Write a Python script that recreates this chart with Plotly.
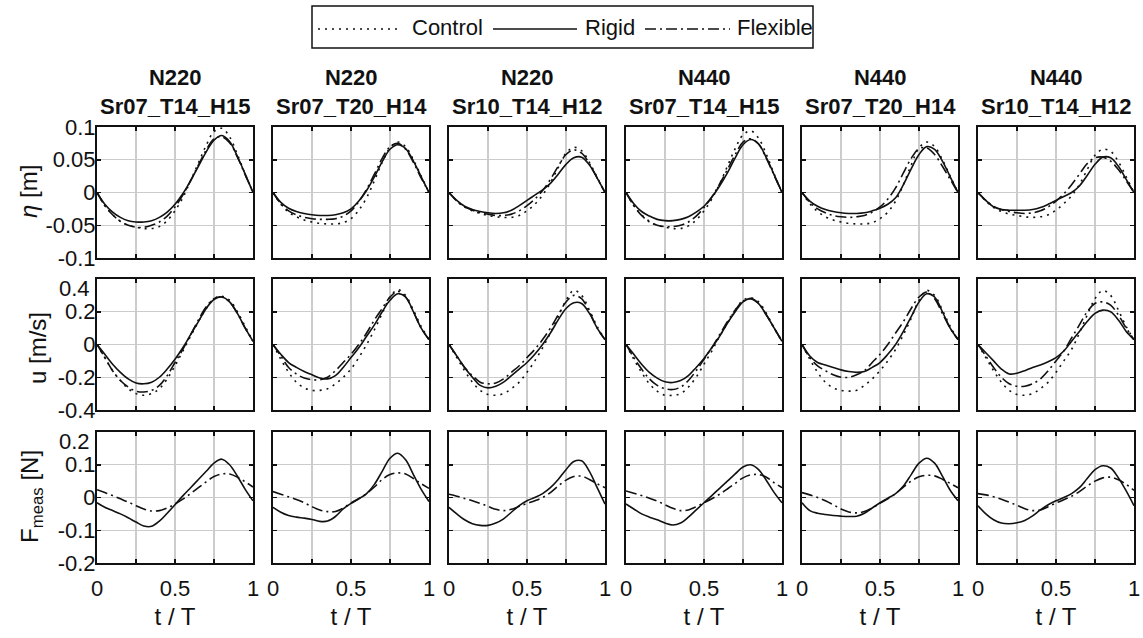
import plotly.graph_objects as go

# figure fills the whole 1143x638 page (the default body margin is removed below)
W, H = 1143, 638

t = [0.0, 0.05, 0.1, 0.15, 0.2, 0.25, 0.3, 0.35, 0.4, 0.45, 0.5,
     0.55, 0.6, 0.65, 0.7, 0.75, 0.8, 0.85, 0.9, 0.95, 1.0]

case_group = ["N220", "N220", "N220", "N440", "N440", "N440"]
case_name = ["Sr07_T14_H15", "Sr07_T20_H14", "Sr10_T14_H12",
             "Sr07_T14_H15", "Sr07_T20_H14", "Sr10_T14_H12"]

series_names = ["Control", "Rigid", "Flexible"]
x_title = "t / T"
y_titles = ["<i>η</i> [m]", "u [m/s]", "F<sub>meas</sub> [N]"]

x_tickvals = [0, 0.5, 1]
x_ticktext = ["0", "0.5", "1"]
x_minor_ticks = [0.25, 0.75]
eta_ticks = [-0.1, -0.05, 0, 0.05, 0.1]
eta_ticktext = ["-0.1", "-0.05", "0", "0.05", "0.1"]
u_ticks = [-0.4, -0.2, 0, 0.2, 0.4]
u_ticktext = ["-0.4", "-0.2", "0", "0.2", "0.4"]
f_ticks = [-0.2, -0.1, 0, 0.1, 0.2]
f_ticktext = ["-0.2", "-0.1", "0", "0.1", "0.2"]

# ---- surface elevation eta [m] ----
eta_control = [
    [0, -0.02, -0.034, -0.044, -0.05, -0.053, -0.055, -0.055, -0.052, -0.043, -0.028, -0.008, 0.018, 0.045, 0.072, 0.093, 0.098, 0.085, 0.058, 0.028, 0],
    [0, -0.018, -0.03, -0.037, -0.042, -0.045, -0.047, -0.048, -0.048, -0.046, -0.04, -0.027, -0.008, 0.018, 0.046, 0.068, 0.077, 0.07, 0.05, 0.025, 0],
    [0, -0.013, -0.022, -0.028, -0.032, -0.035, -0.037, -0.038, -0.038, -0.035, -0.028, -0.018, -0.004, 0.015, 0.038, 0.06, 0.069, 0.064, 0.046, 0.023, 0],
    [0, -0.02, -0.034, -0.044, -0.05, -0.053, -0.055, -0.055, -0.051, -0.042, -0.028, -0.01, 0.013, 0.04, 0.067, 0.088, 0.094, 0.083, 0.058, 0.028, 0],
    [0, -0.017, -0.029, -0.037, -0.042, -0.045, -0.047, -0.048, -0.048, -0.046, -0.04, -0.03, -0.013, 0.012, 0.042, 0.068, 0.077, 0.07, 0.05, 0.025, 0],
    [0, -0.013, -0.023, -0.029, -0.033, -0.035, -0.037, -0.038, -0.037, -0.034, -0.027, -0.017, -0.005, 0.012, 0.035, 0.057, 0.066, 0.063, 0.047, 0.024, 0],
]
eta_rigid = [
    [0, -0.018, -0.03, -0.038, -0.043, -0.045, -0.045, -0.043, -0.038, -0.03, -0.018, -0.002, 0.018, 0.04, 0.062, 0.08, 0.087, 0.078, 0.055, 0.028, 0],
    [0, -0.015, -0.024, -0.029, -0.032, -0.034, -0.035, -0.035, -0.034, -0.031, -0.025, -0.013, 0.003, 0.024, 0.047, 0.066, 0.073, 0.067, 0.048, 0.024, 0],
    [0, -0.012, -0.021, -0.026, -0.029, -0.031, -0.032, -0.031, -0.027, -0.02, -0.012, -0.004, 0.004, 0.014, 0.028, 0.043, 0.053, 0.054, 0.042, 0.022, 0],
    [0, -0.017, -0.029, -0.036, -0.041, -0.043, -0.043, -0.041, -0.037, -0.03, -0.021, -0.007, 0.01, 0.03, 0.053, 0.073, 0.081, 0.074, 0.053, 0.027, 0],
    [0, -0.013, -0.021, -0.026, -0.029, -0.031, -0.032, -0.032, -0.031, -0.028, -0.024, -0.018, -0.008, 0.012, 0.036, 0.058, 0.07, 0.066, 0.048, 0.024, 0],
    [0, -0.012, -0.022, -0.026, -0.027, -0.027, -0.027, -0.026, -0.023, -0.018, -0.012, -0.006, 0.0, 0.01, 0.026, 0.043, 0.054, 0.053, 0.04, 0.02, 0],
]
eta_flexible = [
    [0, -0.02, -0.034, -0.044, -0.05, -0.053, -0.053, -0.05, -0.045, -0.036, -0.022, -0.004, 0.018, 0.042, 0.065, 0.082, 0.085, 0.076, 0.054, 0.027, 0],
    [0, -0.017, -0.028, -0.034, -0.038, -0.04, -0.041, -0.041, -0.04, -0.036, -0.028, -0.014, 0.005, 0.028, 0.052, 0.07, 0.075, 0.066, 0.046, 0.022, 0],
    [0, -0.013, -0.022, -0.027, -0.031, -0.033, -0.035, -0.035, -0.033, -0.028, -0.02, -0.01, 0.003, 0.02, 0.04, 0.058, 0.065, 0.06, 0.044, 0.022, 0],
    [0, -0.02, -0.035, -0.045, -0.05, -0.052, -0.052, -0.05, -0.045, -0.036, -0.023, -0.007, 0.013, 0.035, 0.058, 0.077, 0.082, 0.074, 0.052, 0.026, 0],
    [0, -0.015, -0.025, -0.031, -0.035, -0.037, -0.038, -0.037, -0.035, -0.03, -0.022, -0.01, 0.007, 0.03, 0.052, 0.067, 0.068, 0.058, 0.04, 0.02, 0],
    [0, -0.012, -0.021, -0.026, -0.029, -0.031, -0.032, -0.031, -0.028, -0.022, -0.013, -0.002, 0.012, 0.028, 0.044, 0.053, 0.054, 0.048, 0.035, 0.018, 0],
]

# ---- velocity u [m/s] ----
u_control = [
    [0, -0.08, -0.16, -0.22, -0.27, -0.3, -0.31, -0.3, -0.27, -0.21, -0.13, -0.04, 0.05, 0.14, 0.22, 0.28, 0.295, 0.27, 0.2, 0.11, 0.02],
    [0, -0.09, -0.17, -0.23, -0.265, -0.28, -0.28, -0.27, -0.24, -0.2, -0.15, -0.08, 0.0, 0.09, 0.19, 0.29, 0.335, 0.3, 0.21, 0.11, 0.03],
    [0, -0.08, -0.16, -0.23, -0.28, -0.305, -0.31, -0.3, -0.27, -0.23, -0.17, -0.1, -0.02, 0.07, 0.17, 0.27, 0.33, 0.3, 0.21, 0.11, 0.03],
    [0, -0.09, -0.17, -0.24, -0.285, -0.31, -0.31, -0.3, -0.26, -0.2, -0.12, -0.04, 0.05, 0.13, 0.21, 0.27, 0.285, 0.26, 0.19, 0.1, 0.02],
    [0, -0.09, -0.17, -0.23, -0.265, -0.28, -0.285, -0.28, -0.25, -0.21, -0.16, -0.1, -0.03, 0.06, 0.16, 0.27, 0.33, 0.3, 0.21, 0.11, 0.03],
    [0, -0.08, -0.16, -0.23, -0.28, -0.305, -0.31, -0.3, -0.27, -0.23, -0.17, -0.1, -0.03, 0.07, 0.18, 0.28, 0.33, 0.3, 0.21, 0.11, 0.03],
]
u_rigid = [
    [0, -0.06, -0.12, -0.17, -0.21, -0.235, -0.24, -0.23, -0.2, -0.15, -0.09, -0.02, 0.06, 0.14, 0.22, 0.275, 0.29, 0.26, 0.19, 0.1, 0.02],
    [0, -0.06, -0.11, -0.14, -0.165, -0.185, -0.205, -0.21, -0.19, -0.14, -0.08, -0.02, 0.05, 0.12, 0.2, 0.27, 0.31, 0.29, 0.2, 0.1, 0.03],
    [0, -0.07, -0.14, -0.2, -0.25, -0.265, -0.255, -0.23, -0.19, -0.15, -0.11, -0.06, 0.0, 0.07, 0.15, 0.22, 0.255, 0.25, 0.19, 0.1, 0.03],
    [0, -0.06, -0.12, -0.17, -0.205, -0.228, -0.232, -0.22, -0.19, -0.14, -0.085, -0.02, 0.05, 0.13, 0.2, 0.26, 0.28, 0.25, 0.18, 0.1, 0.02],
    [0, -0.07, -0.11, -0.125, -0.14, -0.155, -0.165, -0.17, -0.165, -0.14, -0.11, -0.06, 0.0, 0.08, 0.17, 0.26, 0.31, 0.29, 0.2, 0.1, 0.03],
    [0, -0.05, -0.1, -0.15, -0.18, -0.175, -0.16, -0.14, -0.125, -0.105, -0.08, -0.04, 0.02, 0.08, 0.14, 0.19, 0.21, 0.2, 0.15, 0.08, 0.03],
]
u_flexible = [
    [0, -0.08, -0.16, -0.22, -0.26, -0.285, -0.29, -0.28, -0.25, -0.19, -0.11, -0.03, 0.06, 0.15, 0.23, 0.28, 0.29, 0.26, 0.19, 0.1, 0.02],
    [0, -0.07, -0.14, -0.18, -0.205, -0.215, -0.215, -0.2, -0.16, -0.11, -0.06, 0.0, 0.07, 0.15, 0.22, 0.29, 0.325, 0.29, 0.2, 0.1, 0.03],
    [0, -0.07, -0.14, -0.19, -0.23, -0.24, -0.235, -0.21, -0.17, -0.13, -0.08, -0.03, 0.03, 0.1, 0.18, 0.26, 0.3, 0.28, 0.2, 0.1, 0.03],
    [0, -0.08, -0.15, -0.21, -0.25, -0.27, -0.275, -0.26, -0.22, -0.16, -0.09, -0.02, 0.06, 0.14, 0.21, 0.265, 0.28, 0.25, 0.18, 0.1, 0.02],
    [0, -0.08, -0.13, -0.16, -0.185, -0.2, -0.2, -0.185, -0.16, -0.11, -0.06, 0.0, 0.07, 0.14, 0.22, 0.29, 0.32, 0.28, 0.19, 0.1, 0.03],
    [0, -0.07, -0.14, -0.2, -0.24, -0.255, -0.255, -0.24, -0.21, -0.16, -0.1, -0.04, 0.04, 0.12, 0.2, 0.25, 0.26, 0.24, 0.18, 0.1, 0.03],
]

# ---- measured force F_meas [N] ----
f_rigid = [
    [-0.016, -0.03, -0.04, -0.05, -0.062, -0.075, -0.087, -0.088, -0.072, -0.048, -0.022, 0.005, 0.03, 0.055, 0.08, 0.105, 0.117, 0.1, 0.065, 0.025, -0.01],
    [-0.03, -0.045, -0.055, -0.06, -0.063, -0.067, -0.073, -0.072, -0.058, -0.035, -0.018, -0.004, 0.012, 0.04, 0.08, 0.12, 0.135, 0.115, 0.07, 0.025, -0.012],
    [-0.03, -0.05, -0.068, -0.08, -0.085, -0.085, -0.078, -0.065, -0.045, -0.025, -0.01, 0.0, 0.012, 0.03, 0.055, 0.085, 0.11, 0.112, 0.08, 0.03, -0.02],
    [-0.02, -0.035, -0.05, -0.06, -0.068, -0.078, -0.084, -0.078, -0.06, -0.038, -0.016, 0.006, 0.028, 0.05, 0.072, 0.093, 0.1, 0.085, 0.052, 0.015, -0.016],
    [-0.016, -0.04, -0.048, -0.052, -0.055, -0.057, -0.058, -0.057, -0.048, -0.032, -0.016, -0.002, 0.012, 0.035, 0.07, 0.105, 0.12, 0.105, 0.065, 0.022, -0.01],
    [-0.025, -0.05, -0.068, -0.078, -0.08, -0.077, -0.07, -0.056, -0.038, -0.022, -0.01, 0.0, 0.012, 0.03, 0.058, 0.085, 0.097, 0.09, 0.06, 0.02, -0.025],
]
f_flexible = [
    [0.024, 0.015, 0.006, -0.004, -0.014, -0.025, -0.035, -0.041, -0.04, -0.032, -0.02, -0.005, 0.012, 0.03, 0.048, 0.064, 0.072, 0.072, 0.062, 0.048, 0.032],
    [0.018, 0.01, 0.002, -0.006, -0.016, -0.028, -0.038, -0.043, -0.043, -0.032, -0.017, -0.003, 0.012, 0.032, 0.055, 0.07, 0.075, 0.072, 0.058, 0.042, 0.028],
    [0.01, 0.004, -0.003, -0.01, -0.018, -0.027, -0.036, -0.04, -0.036, -0.027, -0.018, -0.01, 0.0, 0.015, 0.035, 0.053, 0.064, 0.065, 0.055, 0.042, 0.03],
    [0.02, 0.013, 0.006, -0.002, -0.011, -0.022, -0.033, -0.04, -0.038, -0.028, -0.016, -0.004, 0.01, 0.026, 0.043, 0.06, 0.069, 0.07, 0.062, 0.045, 0.03],
    [0.015, 0.008, 0.0, -0.01, -0.022, -0.035, -0.044, -0.047, -0.043, -0.032, -0.018, -0.004, 0.012, 0.032, 0.05, 0.063, 0.068, 0.066, 0.056, 0.043, 0.03],
    [0.012, 0.008, 0.002, -0.005, -0.014, -0.024, -0.034, -0.04, -0.038, -0.028, -0.017, -0.007, 0.004, 0.018, 0.035, 0.05, 0.06, 0.062, 0.054, 0.04, 0.022],
]

# ---------------- styling / layout ----------------
FONT = "Liberation Sans, Arial, sans-serif"
INK = "#111111"
GRID = "#cccccc"
DASH = {"Control": "2px,5px", "Rigid": "solid", "Flexible": "11px,4px,2px,4px"}
LW = 1.6

# positions in page pixels
col_left = [97, 273, 449, 626, 802, 978]
col_w = 156
row_top = [127, 279, 432]
row_h = 131
ytitle_x = [28, 37, 31]
ytitle_y = [192, 348, 497]

def px(x):
    return x / W

def py(y):
    return 1 - y / H

rows = [
    {"ticks": eta_ticks, "text": eta_ticktext, "range": [-0.1, 0.1],
     "series": [("Control", eta_control), ("Rigid", eta_rigid), ("Flexible", eta_flexible)]},
    {"ticks": u_ticks, "text": u_ticktext, "range": [-0.4, 0.4],
     "series": [("Control", u_control), ("Rigid", u_rigid), ("Flexible", u_flexible)]},
    {"ticks": f_ticks, "text": f_ticktext, "range": [-0.2, 0.2],
     "series": [("Rigid", f_rigid), ("Flexible", f_flexible)]},
]

fig = go.Figure()
layout = {}
annotations = []
for r, row in enumerate(rows):
    for c in range(6):
        k = r * 6 + c + 1
        xa = "xaxis" if k == 1 else f"xaxis{k}"
        ya = "yaxis" if k == 1 else f"yaxis{k}"
        xr = "x" if k == 1 else f"x{k}"
        yr = "y" if k == 1 else f"y{k}"
        for name, data in row["series"]:
            fig.add_trace(go.Scatter(
                x=t, y=data[c], mode="lines", name=name, showlegend=False,
                xaxis=xr, yaxis=yr,
                line=dict(color=INK, width=LW, dash=DASH[name], shape="spline", smoothing=1.0),
                hoverinfo="skip"))
        common = dict(showline=True, linecolor=INK, linewidth=2, mirror="ticks",
                      ticks="inside", ticklen=4, tickwidth=1.5, tickcolor=INK,
                      showgrid=True, gridcolor=GRID, gridwidth=1.2, zeroline=False,
                      automargin=False, ticklabeloverflow="allow",
                      tickfont=dict(family=FONT, size=22, color=INK))
        layout[xa] = dict(common, domain=[px(col_left[c]), px(col_left[c] + col_w)],
                          anchor=yr, range=[0, 1], tickmode="array",
                          tickvals=x_tickvals, ticktext=x_ticktext,
                          minor=dict(tickmode="array", tickvals=x_minor_ticks,
                                     ticks="inside", ticklen=4, tickwidth=1.5,
                                     tickcolor=INK, showgrid=True,
                                     gridcolor=GRID, gridwidth=1.2),
                          showticklabels=(r == 2), ticklabelstandoff=5)
        if r == 2:
            layout[xa]["title"] = dict(text=x_title, standoff=8,
                                       font=dict(family=FONT, size=24, color=INK))
        # the top tick label of the lower rows sits a little below its tick
        # (as in the original), so it is written separately
        tv, tt = list(row["ticks"]), list(row["text"])
        if r > 0:
            top_text = tt[-1]
            tv, tt = tv[:-1], tt[:-1]
            if c == 0:
                annotations.append(dict(
                    x=px(col_left[0] - 5), y=py(row_top[r] + 9), xref="paper", yref="paper",
                    xanchor="right", yanchor="middle", showarrow=False, text=top_text,
                    font=dict(family=FONT, size=22, color=INK)))
        layout[ya] = dict(common, domain=[py(row_top[r] + row_h), py(row_top[r])],
                          anchor=xr, range=row["range"], tickmode="array",
                          tickvals=tv, ticktext=tt,
                          showticklabels=(c == 0), ticklabelstandoff=-5)

# y-axis titles (rotated, placed as in the original)
for r in range(3):
    annotations.append(dict(
        x=px(ytitle_x[r]), y=py(ytitle_y[r]), xref="paper", yref="paper",
        xanchor="center", yanchor="middle", showarrow=False, textangle=-90,
        text=y_titles[r], font=dict(family=FONT, size=24, color=INK)))

for c in range(6):
    annotations.append(dict(
        x=px(col_left[c] + col_w / 2), y=py(row_top[0] - 6), xref="paper", yref="paper",
        xanchor="center", yanchor="bottom", showarrow=False,
        text=f"<b>{case_group[c]}</b><br><b>{case_name[c]}</b>",
        font=dict(family=FONT, size=22, color=INK)))

# legend (drawn as a boxed key)
shapes = [dict(type="rect", xref="paper", yref="paper",
               x0=px(312), x1=px(813), y0=py(48), y1=py(6),
               line=dict(color=INK, width=1.5), fillcolor="white")]
leg_lines = [(318, 397), (493, 577), (645, 730)]
leg_text_x = [410, 583, 735]
for (x0, x1), tx, name in zip(leg_lines, leg_text_x, series_names):
    shapes.append(dict(type="line", xref="paper", yref="paper",
                       x0=px(x0), x1=px(x1), y0=py(29), y1=py(29),
                       line=dict(color=INK, width=LW, dash=DASH[name])))
    annotations.append(dict(x=px(tx), y=py(27.5), xref="paper", yref="paper",
                            xanchor="left", yanchor="middle", showarrow=False,
                            text=name, font=dict(family=FONT, size=22, color=INK)))

fig.update_layout(
    width=W, height=H, autosize=False,
    margin=dict(l=0, r=0, t=0, b=0),
    paper_bgcolor="white", plot_bgcolor="white",
    font=dict(family=FONT, size=22, color=INK),
    showlegend=False,
    annotations=annotations, shapes=shapes,
    **layout)

fig.write_html(
    "out.html",
    config={"displayModeBar": False, "staticPlot": True},
    post_script="document.body.style.margin='0';document.body.style.overflow='hidden';")
